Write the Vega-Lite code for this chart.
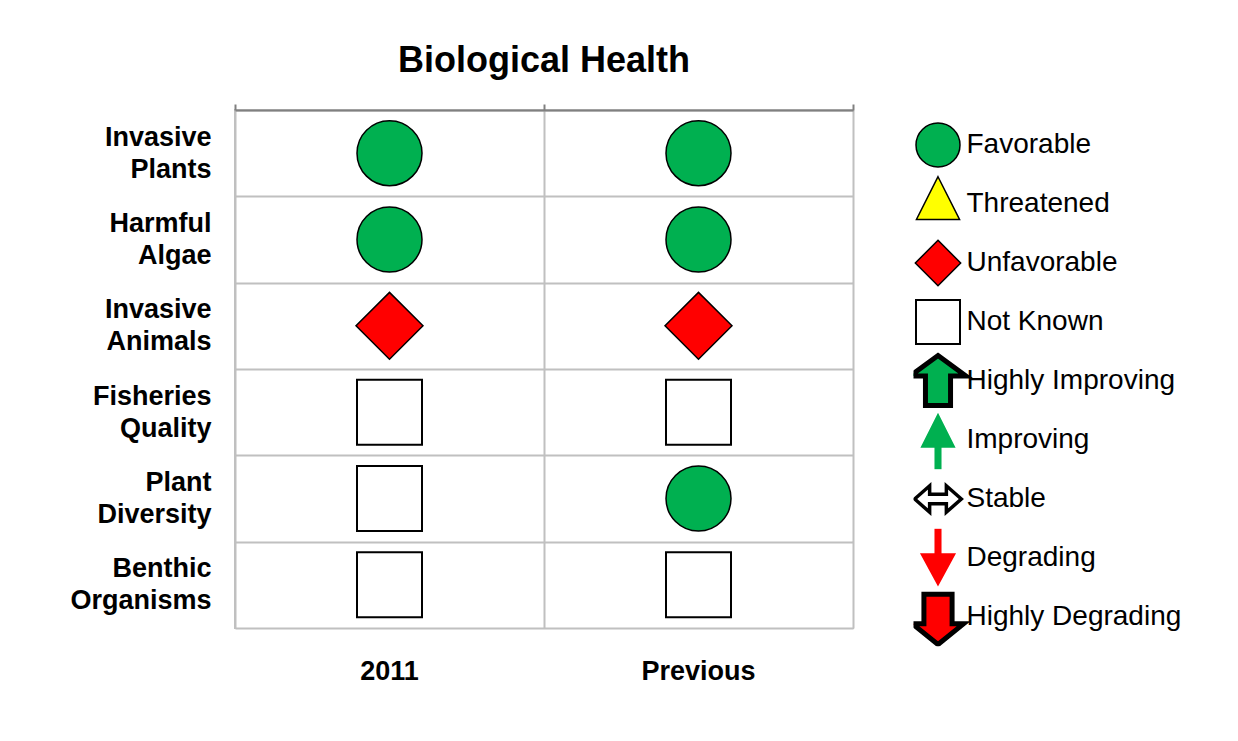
{
  "$schema": "https://vega.github.io/schema/vega-lite/v6.json",
  "width": 618,
  "height": 518,
  "autosize": "none",
  "padding": {"left": 235, "top": 110, "right": 385, "bottom": 113},
  "background": "white",
  "title": {
    "text": "Biological Health",
    "font": "Liberation Sans",
    "fontSize": 36,
    "fontWeight": "bold",
    "color": "black",
    "anchor": "middle",
    "baseline": "alphabetic",
    "offset": -12
  },
  "config": {
    "view": {"stroke": "#c0c0c0", "strokeWidth": 2},
    "axis": {"labelFont": "Liberation Sans", "labelColor": "black"}
  },
  "data": {
    "values": [
      {"indicator": "Invasive Plants", "period": "2011", "status": "Favorable"},
      {"indicator": "Invasive Plants", "period": "Previous", "status": "Favorable"},
      {"indicator": "Harmful Algae", "period": "2011", "status": "Favorable"},
      {"indicator": "Harmful Algae", "period": "Previous", "status": "Favorable"},
      {"indicator": "Invasive Animals", "period": "2011", "status": "Unfavorable"},
      {"indicator": "Invasive Animals", "period": "Previous", "status": "Unfavorable"},
      {"indicator": "Fisheries Quality", "period": "2011", "status": "Not Known"},
      {"indicator": "Fisheries Quality", "period": "Previous", "status": "Not Known"},
      {"indicator": "Plant Diversity", "period": "2011", "status": "Not Known"},
      {"indicator": "Plant Diversity", "period": "Previous", "status": "Favorable"},
      {"indicator": "Benthic Organisms", "period": "2011", "status": "Not Known"},
      {"indicator": "Benthic Organisms", "period": "Previous", "status": "Not Known"}
    ]
  },
  "layer": [
    {
      "mark": {"type": "rect", "fill": "white", "strokeWidth": 0},
      "encoding": {
        "x": {
          "field": "period", "type": "nominal",
          "scale": {"domain": ["2011", "Previous"], "paddingInner": 0, "paddingOuter": 0},
          "axis": {
            "orient": "top", "title": null, "labels": false,
            "tickBand": "extent", "ticks": true, "tickSize": 6, "tickColor": "#808080", "tickWidth": 2,
            "domain": true, "domainColor": "#808080", "domainWidth": 2,
            "grid": true, "gridColor": "#c0c0c0", "gridWidth": 2, "zindex": 1
          }
        },
        "y": {
          "field": "indicator", "type": "nominal",
          "scale": {"domain": ["Invasive Plants", "Harmful Algae", "Invasive Animals", "Fisheries Quality", "Plant Diversity", "Benthic Organisms"], "paddingInner": 0, "paddingOuter": 0},
          "axis": {
            "title": null, "domain": false, "ticks": false,
            "tickBand": "extent", "grid": true, "gridColor": "#c0c0c0", "gridWidth": 2, "zindex": 1,
            "labelExpr": "split(datum.label, ' ')",
            "labelFontSize": 27, "labelFontWeight": "bold", "labelLineHeight": 32,
            "labelPadding": 24, "labelAlign": "right", "labelBaseline": "middle", "labelOffset": -16, "labelLimit": 300
          }
        }
      }
    },
    {
      "mark": {"type": "point", "filled": true, "opacity": 1, "size": 4225},
      "encoding": {
        "x": {
          "field": "period", "type": "nominal",
          "axis": {
            "orient": "bottom", "title": null, "grid": false, "domain": false, "ticks": false,
            "labelAngle": 0, "labelFontSize": 27, "labelFontWeight": "bold", "labelPadding": 30
          }
        },
        "y": {"field": "indicator", "type": "nominal"},
        "shape": {
          "field": "status", "type": "nominal",
          "scale": {
            "domain": ["Favorable", "Threatened", "Unfavorable", "Not Known", "Highly Improving", "Improving", "Stable", "Degrading", "Highly Degrading"],
            "range": [
              "M1,0A1,1,0,1,1,-1,0A1,1,0,1,1,1,0Z",
              "M0,-1.24L0.98,0.7L-0.98,0.7Z",
              "M0,-1.03L1.03,0L0,1.03L-1.03,0Z",
              "M-1,-1L1,-1L1,1L-1,1Z",
              "M0,-1.16L1.27,-0.23L0.57,-0.23L0.57,1.11L-0.57,1.11L-0.57,-0.23L-1.27,-0.23Z",
              "M0,-1.24L0.8,0.35L0.16,0.35L0.16,1.35L-0.16,1.35L-0.16,0.35L-0.8,0.35Z",
              "M-1.06,0L-0.38,-0.6L-0.38,-0.22L0.38,-0.22L0.38,-0.6L1.06,0L0.38,0.6L0.38,0.22L-0.38,0.22L-0.38,0.6Z",
              "M-0.16,-1.35L0.16,-1.35L0.16,-0.22L0.82,-0.22L0,1.3L-0.82,-0.22L-0.16,-0.22Z",
              "M-0.64,-1.03L0.64,-1.03L0.64,0.31L1.16,0.31L0,1.25L-1.16,0.31L-0.64,0.31Z"
            ]
          },
          "legend": {"title": null, "orient": "none", "legendX": 678.5, "legendY": 5.65, "padding": 0, "rowPadding": 0, "clipHeight": 58.7, "gridAlign": "all", "symbolSize": 1936, "symbolOpacity": 1, "labelFont": "Liberation Sans", "labelFontSize": 28, "labelColor": "black", "labelOffset": 4, "labelLimit": 400}
        },
        "fill": {
          "field": "status", "type": "nominal",
          "scale": {
            "domain": ["Favorable", "Threatened", "Unfavorable", "Not Known", "Highly Improving", "Improving", "Stable", "Degrading", "Highly Degrading"],
            "range": ["#00b050", "#ffff00", "#ff0000", "#ffffff", "#00b050", "#00b050", "#ffffff", "#ff0000", "#ff0000"]
          },
          "legend": {"title": null, "orient": "none", "legendX": 678.5, "legendY": 5.65, "padding": 0, "rowPadding": 0, "clipHeight": 58.7, "gridAlign": "all", "symbolSize": 1936, "symbolOpacity": 1, "labelFont": "Liberation Sans", "labelFontSize": 28, "labelColor": "black", "labelOffset": 4, "labelLimit": 400}
        },
        "stroke": {
          "field": "status", "type": "nominal",
          "scale": {
            "domain": ["Favorable", "Threatened", "Unfavorable", "Not Known", "Highly Improving", "Improving", "Stable", "Degrading", "Highly Degrading"],
            "range": ["#000000", "#000000", "#000000", "#000000", "#000000", "#00b050", "#000000", "#ff0000", "#000000"]
          },
          "legend": {"title": null, "orient": "none", "legendX": 678.5, "legendY": 5.65, "padding": 0, "rowPadding": 0, "clipHeight": 58.7, "gridAlign": "all", "symbolSize": 1936, "symbolOpacity": 1, "labelFont": "Liberation Sans", "labelFontSize": 28, "labelColor": "black", "labelOffset": 4, "labelLimit": 400}
        },
        "strokeWidth": {
          "field": "status", "type": "nominal",
          "scale": {
            "type": "ordinal",
            "domain": ["Favorable", "Threatened", "Unfavorable", "Not Known", "Highly Improving", "Improving", "Stable", "Degrading", "Highly Degrading"],
            "range": [1.5, 1.5, 1.5, 2, 5, 0, 3.5, 0, 5]
          },
          "legend": {"title": null, "orient": "none", "legendX": 678.5, "legendY": 5.65, "padding": 0, "rowPadding": 0, "clipHeight": 58.7, "gridAlign": "all", "symbolSize": 1936, "symbolOpacity": 1, "labelFont": "Liberation Sans", "labelFontSize": 28, "labelColor": "black", "labelOffset": 4, "labelLimit": 400}
        }
      }
    }
  ]
}
